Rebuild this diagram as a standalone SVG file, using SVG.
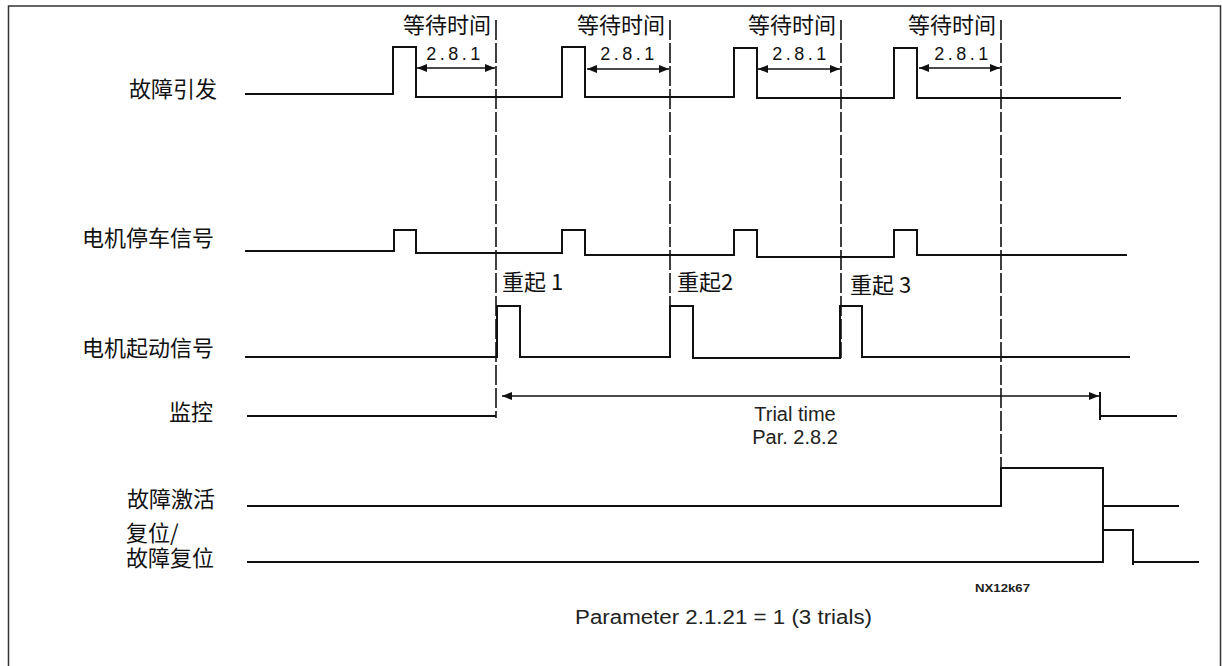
<svg xmlns="http://www.w3.org/2000/svg" width="1222" height="666" viewBox="0 0 1222 666">
<style>
.cjk{font-family:"Noto Sans CJK SC","Noto Sans",sans-serif;font-size:22px;fill:#111}
.lat{font-family:"Liberation Sans",Arial,sans-serif;fill:#222}
.sig{fill:none;stroke:#111;stroke-width:2}
.dash{fill:none;stroke:#111;stroke-width:1.6;stroke-dasharray:20 3}
.dim{fill:none;stroke:#111;stroke-width:1.5;marker-start:url(#ah);marker-end:url(#ah)}
.num{font-family:"Liberation Sans",Arial,sans-serif;font-size:18px;fill:#111;letter-spacing:3.5px}
</style>
<defs>
<marker id="ah" viewBox="0 0 10 8" refX="10" refY="4" markerWidth="10" markerHeight="8" markerUnits="userSpaceOnUse" orient="auto-start-reverse">
<path d="M0,0 L10,4 L0,8 Z" fill="#111"/>
</marker>
</defs>
<rect x="8.5" y="6" width="1212" height="680" fill="#fff" stroke="#333" stroke-width="1.5"/>

<g id="fault-trigger">
<text class="cjk" x="217" y="97" text-anchor="end">故障引发</text>
<path class="sig" d="M245,94 H393 V47 H416 V97 H562 V47 H585 V97 H734 V48 H757 V98 H894 V48 H917 V98 H1121"/>
</g>
<g id="motor-stop">
<text class="cjk" x="214" y="246" text-anchor="end">电机停车信号</text>
<path class="sig" d="M245,251 H394 V230 H416 V253 H562 V230 H585 V255 H734 V230 H757 V257 H894 V230 H917 V255 H1127"/>
</g>
<g id="motor-start">
<text class="cjk" x="214" y="356" text-anchor="end">电机起动信号</text>
<path class="sig" d="M245,357 H497 V306 H520 V357 H670 V306 H693 V358 H840 V306 H862 V357 H1130"/>
<text class="cjk" x="502" y="290">重起 1</text>
<text class="cjk" x="677" y="290">重起2</text>
<text class="cjk" x="850" y="293">重起 3</text>
</g>
<g id="supervision">
<text class="cjk" x="213" y="420" text-anchor="end">监控</text>
<path class="sig" d="M247,416 H496"/>
<path class="sig" d="M1100,392 V420 M1100,416 H1177"/>
<text class="lat" font-size="20" x="795" y="421" text-anchor="middle">Trial time</text>
<text class="lat" font-size="20" x="795" y="444" text-anchor="middle">Par. 2.8.2</text>
</g>
<g id="fault-active">
<text class="cjk" x="215" y="507" text-anchor="end">故障激活</text>
<path class="sig" d="M247,506 H1001 V468 H1103 V506 H1179"/>
</g>
<g id="reset">
<text class="cjk" x="126" y="541" font-size="20">复位/</text>
<text class="cjk" x="214" y="566" text-anchor="end" font-size="21">故障复位</text>
<path class="sig" d="M247,562 H1103 V530 H1133 V565 M1133,562 H1199"/>
<path class="sig" d="M1103,506 V530"/>
</g>

<g id="wait-labels">
<text class="cjk" x="491" y="33" text-anchor="end">等待时间</text>
<text class="cjk" x="665" y="33" text-anchor="end">等待时间</text>
<text class="cjk" x="836" y="33" text-anchor="end">等待时间</text>
<text class="cjk" x="996" y="33" text-anchor="end">等待时间</text>
<text class="num" x="455" y="60" text-anchor="middle">2.8.1</text>
<text class="num" x="629" y="60" text-anchor="middle">2.8.1</text>
<text class="num" x="801" y="60" text-anchor="middle">2.8.1</text>
<text class="num" x="963" y="60" text-anchor="middle">2.8.1</text>
</g>

<g id="connectors">
<path class="dash" d="M496,20 V418"/>
<path class="dash" d="M670,20 V358"/>
<path class="dash" d="M841,20 V358"/>
<path class="dash" d="M1001,20 V468"/>
<path class="dim" d="M417,68 H495"/>
<path class="dim" d="M587,69 H669"/>
<path class="dim" d="M758,69 H840"/>
<path class="dim" d="M919,68 H1000"/>
<path class="dim" d="M502,396 H1099"/>
</g>

<text class="lat" font-size="11" font-weight="bold" fill="#444" x="975" y="592" textLength="55" lengthAdjust="spacingAndGlyphs">NX12k67</text>
<text class="lat" font-size="20" x="575" y="624" textLength="297" lengthAdjust="spacingAndGlyphs">Parameter 2.1.21 = 1 (3 trials)</text>
</svg>
